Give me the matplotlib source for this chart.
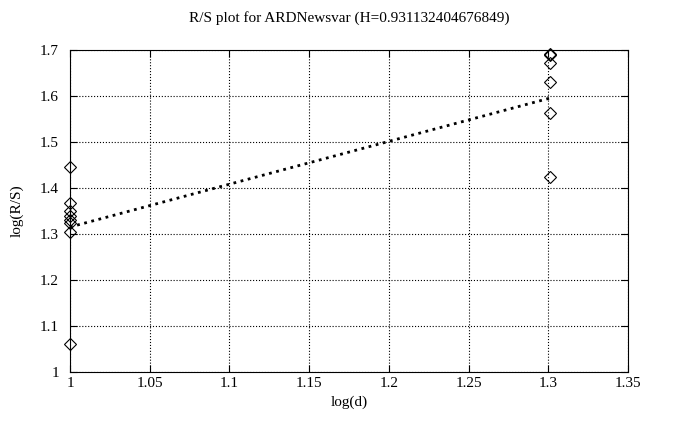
import numpy as np
import matplotlib
matplotlib.use("Agg")
import matplotlib.pyplot as plt

plt.rcParams['font.family'] = ['Liberation Serif', 'DejaVu Serif']

# log(d) and log(R/S) values
log_d = [1.0, 1.0, 1.0, 1.0, 1.0, 1.0, 1.0, 1.0,
         1.30103, 1.30103, 1.30103, 1.30103, 1.30103, 1.30103]
log_rs = [1.445, 1.368, 1.350, 1.340, 1.330, 1.325, 1.305, 1.060,
          1.692, 1.672, 1.630, 1.562, 1.423, 1.689]

H = 0.931132404676849
intercept = 0.384

fig = plt.figure(figsize=(6.91, 4.30), dpi=100)
ax = fig.add_axes([0.1013, 0.1349, 0.8075, 0.7488])

ax.plot(log_d, log_rs, linestyle='none', marker='D', markersize=6,
        markerfacecolor='none', markeredgecolor='black', markeredgewidth=0.8,
        clip_on=False, zorder=3)

xfit = np.array([min(log_d), max(log_d)])
ax.plot(xfit, intercept + H * xfit, color='black', linestyle=':', linewidth=2)

ax.set_xlim(1, 1.35)
ax.set_ylim(1, 1.7)
ax.set_xticks([1, 1.05, 1.1, 1.15, 1.2, 1.25, 1.3, 1.35])
ax.set_xticklabels(['1', '1.05', '1.1', '1.15', '1.2', '1.25', '1.3', '1.35'])
ax.set_yticks([1, 1.1, 1.2, 1.3, 1.4, 1.5, 1.6, 1.7])
ax.set_yticklabels(['1', '1.1', '1.2', '1.3', '1.4', '1.5', '1.6', '1.7'])
ax.grid(True, color='black', linestyle=':', linewidth=0.8)
ax.tick_params(direction='in', top=True, right=True, length=5, labelsize=11)
ax.tick_params(axis='y', pad=8)
for s in ax.spines.values():
    s.set_linewidth(0.8)

ax.set_title('R/S plot for ARDNewsvar (H=%s)' % repr(H), fontsize=11, pad=20)
ax.set_xlabel('log(d)', fontsize=11)
ax.set_ylabel('log(R/S)', fontsize=11, labelpad=12)

fig.savefig('out.png', dpi=100)
